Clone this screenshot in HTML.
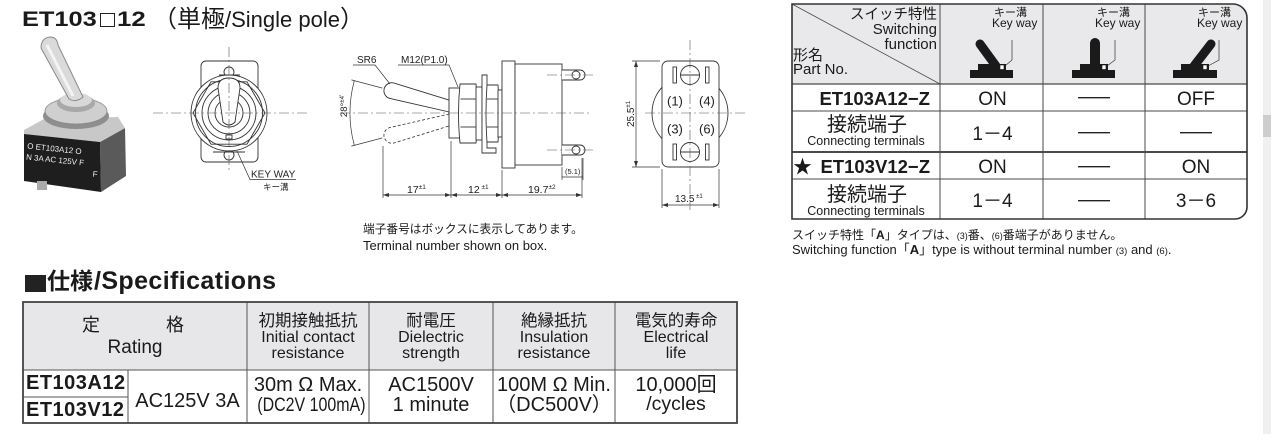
<!DOCTYPE html>
<html><head><meta charset="utf-8">
<style>
html,body{margin:0;padding:0;}
body{width:1271px;height:434px;overflow:hidden;background:#fff;position:relative;font-family:"Liberation Sans","Noto Sans CJK JP",sans-serif;color:#1a1a1a;}
.a{position:absolute;white-space:nowrap;line-height:1;}
.c{text-align:center;}
.r{text-align:right;}
.b{font-weight:bold;}
svg{position:absolute;left:0;top:0;}
</style></head><body>
<svg width="1271" height="434" viewBox="0 0 1271 434" font-family="Liberation Sans, Noto Sans CJK JP, sans-serif">
<defs>
<marker id="ar" markerWidth="6" markerHeight="4" refX="6" refY="2" orient="auto-start-reverse" markerUnits="userSpaceOnUse"><path d="M0,0 L6,2 L0,4 z" fill="#333"/></marker>
</defs>

<!-- PHOTO -->
<g>
<polygon points="100,142 125,128 126,176 101,192" fill="#5a5a5a"/>
<polygon points="24,130 44,119 118,117 125,128 100,142 24,134" fill="#c8c8c8"/>
<polygon points="24,134 100,142 101,192 24,181" fill="#1e1e1e"/>
<rect x="37" y="181" width="10" height="9" fill="#aaa"/>
<ellipse cx="76" cy="116" rx="33" ry="13" fill="#8e8e8e"/>
<ellipse cx="76" cy="111" rx="31" ry="13" fill="#cfcfcf" stroke="#888" stroke-width=".8"/>
<ellipse cx="76" cy="103" rx="19" ry="9" fill="#a8a8a8"/>
<ellipse cx="76" cy="100" rx="16" ry="7" fill="#d8d8d8"/>
<path d="M41,48 Q41,38 50,37 Q57,37 58,45 L83,97 Q76,103 69,99 Z" fill="#dadada" stroke="#8a8a8a" stroke-width="1"/>
<path d="M47,45 L73,96" stroke="#f4f4f4" stroke-width="3"/>
<g fill="#eee" font-size="8" transform="rotate(6 60 150)">
<text x="27" y="152">O ET103A12 O</text>
<text x="27" y="163">N 3A AC 125V F</text>
<text x="95" y="173">F</text>
</g>
</g>

<!-- FRONT VIEW -->
<g stroke="#333" stroke-width="0.9" fill="none">
<rect x="201" y="61" width="57" height="101" rx="5" fill="#fff"/>
<circle cx="229" cy="72" r="5" fill="#fff"/>
<circle cx="229" cy="155" r="5" fill="#fff"/>
<circle cx="229" cy="113" r="38" fill="#fff"/>
<polygon points="265,113 247,81.8 211,81.8 193,113 211,144.2 247,144.2" fill="#fff"/>
<circle cx="229" cy="113" r="33.5"/>
<circle cx="229" cy="113" r="27"/>
<circle cx="229" cy="113" r="21"/>
<circle cx="229" cy="113" r="14"/>
<path d="M218,88 Q218,78 229,78 Q240,78 240,88 L235,122 Q229,128 223,122 Z" fill="#fff"/>
<rect x="226" y="135" width="6" height="4" fill="#fff"/>
<line x1="219" y1="75" x2="240" y2="75"/>
<line x1="213" y1="152" x2="245" y2="152"/>
<path d="M237,151 L250,179.5 H296" stroke-width=".7"/>
</g>
<g stroke="#555" stroke-width="0.6" stroke-dasharray="10 3 2 3">
<line x1="153" y1="113" x2="310" y2="113"/>
<line x1="229" y1="47" x2="229" y2="172"/>
</g>
<text x="251" y="177.5" font-size="10" fill="#222">KEY WAY</text>
<text x="263" y="190" font-size="8.5" fill="#222">キー溝</text>

<!-- SIDE VIEW -->
<g stroke="#333" stroke-width="0.9" fill="none">
<path transform="translate(475,113) rotate(-15)" d="M-20,-5.5 L-86,-8 A8,8 0 0 0 -86,8 L-20,5.5" stroke-dasharray="3 2" stroke-width=".8"/>
<path transform="translate(475,113) rotate(15)" d="M-20,-5.5 L-86,-8 A8,8 0 0 0 -86,8 L-20,5.5 Z" fill="#fff"/>
<rect x="449" y="88" width="12" height="50" fill="#fff"/>
<path d="M460,84 Q457,113 460,143 H476 Q479,113 476,84 Z" fill="#fff"/>
<line x1="460.5" y1="99" x2="476" y2="99"/><line x1="460.5" y1="127" x2="476" y2="127"/>
<rect x="476" y="87" width="6" height="53" fill="#fff"/>
<path d="M482,75 H487 V148 H496 V153 H482 Z" fill="#fff"/>
<path d="M487,85 Q485,113 487,142 H498 Q500,113 498,85 Z" fill="#fff"/>
<line x1="487" y1="99" x2="498" y2="99"/><line x1="487" y1="127" x2="498" y2="127"/>
<rect x="498" y="90" width="4" height="47" fill="#fff"/>
<rect x="502" y="61" width="13" height="107" fill="#fff"/>
<rect x="515" y="64" width="47" height="101" fill="#fff"/>
<path d="M562,70 H580 A5,5 0 0 1 580,80 H562" fill="#fff"/>
<circle cx="576" cy="75" r="4"/>
<path d="M562,145 H580 A5,5 0 0 1 580,155 H562" fill="#fff"/>
<circle cx="576" cy="150" r="4"/>
<path d="M354.3,80.6 A125,125 0 0 0 354.3,145.4" stroke-width=".7"/>
<line x1="382.3" y1="88.1" x2="351.4" y2="79.9" stroke-width=".7"/>
<line x1="382.3" y1="137.9" x2="351.4" y2="146.1" stroke-width=".7"/>
<path d="M353,65 H375 L390,84" stroke-width=".7"/>
<path d="M398,65 H449 L458,87" stroke-width=".7"/>
<g stroke-width=".7">
<line x1="383" y1="146" x2="383" y2="198"/>
<line x1="451" y1="141" x2="451" y2="198"/>
<line x1="502" y1="170" x2="502" y2="198"/>
<line x1="582" y1="158" x2="582" y2="198"/>
<line x1="383" y1="195" x2="451" y2="195" marker-start="url(#ar)" marker-end="url(#ar)"/>
<line x1="451" y1="195" x2="502" y2="195" marker-start="url(#ar)" marker-end="url(#ar)"/>
<line x1="502" y1="195" x2="582" y2="195" marker-start="url(#ar)" marker-end="url(#ar)"/>
<line x1="562" y1="167" x2="562" y2="180"/>
<line x1="583" y1="158" x2="583" y2="180"/>
<line x1="562" y1="177" x2="583" y2="177"/>
</g>
</g>
<g stroke="#555" stroke-width="0.6" stroke-dasharray="10 3 2 3">
<line x1="340" y1="113" x2="592" y2="113"/>
<line x1="547" y1="75" x2="594" y2="75"/>
<line x1="547" y1="150" x2="594" y2="150"/>
</g>
<g fill="#222">
<text x="357" y="63" font-size="10">SR6</text>
<text x="401" y="63" font-size="10">M12(P1.0)</text>
<text transform="translate(347,106) rotate(-90)" text-anchor="middle" font-size="9.5">28°<tspan font-size="6" dy="-3">±4'</tspan></text>
<text x="407" y="193" font-size="10.5">17<tspan font-size="6.5" dy="-4">±1</tspan></text>
<text x="468" y="193" font-size="10.5">12<tspan font-size="6.5" dy="-4"> ±1</tspan></text>
<text x="528" y="193" font-size="10.5">19.7<tspan font-size="6.5" dy="-4">±2</tspan></text>
<text x="565" y="174" font-size="7.5">(5.1)</text>
</g>

<!-- RIGHT VIEW -->
<g stroke="#333" stroke-width="0.9" fill="none">
<circle cx="690" cy="113" r="38"/>
<rect x="662" y="61" width="57" height="106" rx="6" fill="#fff"/>
<circle cx="690" cy="75" r="9.5" fill="#fff"/>
<circle cx="690" cy="152" r="9.5" fill="#fff"/>
<line x1="680" y1="75" x2="700" y2="75"/>
<line x1="680" y1="152" x2="700" y2="152"/>
<rect x="673" y="67" width="3.5" height="16" fill="#fff"/>
<rect x="705.5" y="67" width="3.5" height="16" fill="#fff"/>
<rect x="673" y="144" width="3.5" height="16" fill="#fff"/>
<rect x="705.5" y="144" width="3.5" height="16" fill="#fff"/>
<g stroke-width=".7">
<line x1="632" y1="61" x2="660" y2="61"/>
<line x1="632" y1="167" x2="660" y2="167"/>
<line x1="636" y1="61" x2="636" y2="167" marker-start="url(#ar)" marker-end="url(#ar)"/>
<line x1="662" y1="169" x2="662" y2="208"/>
<line x1="719" y1="169" x2="719" y2="208"/>
<line x1="662" y1="205" x2="719" y2="205" marker-start="url(#ar)" marker-end="url(#ar)"/>
</g>
</g>
<g stroke="#555" stroke-width="0.6" stroke-dasharray="10 3 2 3">
<line x1="690" y1="40" x2="690" y2="210"/>
<line x1="645" y1="113" x2="745" y2="113"/>
</g>
<g fill="#222" font-size="13">
<text x="667" y="105.5">(1)</text>
<text x="699" y="105.5">(4)</text>
<text x="667" y="133.5">(3)</text>
<text x="699" y="133.5">(6)</text>
</g>
<text transform="translate(634,114) rotate(-90)" text-anchor="middle" font-size="10" fill="#222">25.5<tspan font-size="6" dy="-4">±1</tspan></text>
<text x="675" y="202" font-size="10" fill="#222">13.5<tspan font-size="6" dy="-4"> ±1</tspan></text>

<!-- RIGHT TABLE -->
<path d="M792,4 H1233 A14,14 0 0 1 1247,18 V84 H792 Z" fill="#e9e9eb"/>
<g stroke="#4a4a4a" stroke-width="1">
<line x1="792" y1="84" x2="1247" y2="84" stroke-width="1.3"/>
<line x1="792" y1="111" x2="1247" y2="111"/>
<line x1="792" y1="152" x2="1247" y2="152" stroke-width="2"/>
<line x1="792" y1="179" x2="1247" y2="179"/>
<line x1="940" y1="4" x2="940" y2="219"/>
<line x1="1043" y1="4" x2="1043" y2="219"/>
<line x1="1145" y1="4" x2="1145" y2="219"/>
<line x1="792" y1="4" x2="940" y2="84" stroke-width=".8"/>
</g>
<path d="M792,4 H1233 A14,14 0 0 1 1247,18 V207 A12,12 0 0 1 1235,219 H792 Z" fill="none" stroke="#333" stroke-width="1.6"/>
<g stroke="#222" stroke-width="1.3">
<line x1="1078" y1="97.7" x2="1110" y2="97.7"/>
<line x1="1078" y1="132.7" x2="1110" y2="132.7"/>
<line x1="1180" y1="132.7" x2="1212" y2="132.7"/>
<line x1="1078" y1="166.7" x2="1110" y2="166.7"/>
<line x1="1078" y1="200.7" x2="1110" y2="200.7"/>
</g>
<g fill="#1a1a1a">
<rect x="970" y="70" width="43" height="8"/>
<rect x="978" y="64" width="28" height="7"/>
<line x1="980" y1="44" x2="996" y2="66" stroke="#1a1a1a" stroke-width="9" stroke-linecap="round"/>
<rect x="1000" y="65" width="4" height="4.5" fill="#fff" stroke="#1a1a1a" stroke-width=".6"/>
<rect x="1072" y="70" width="43" height="8"/>
<rect x="1080" y="64" width="28" height="7"/>
<line x1="1095" y1="43" x2="1095" y2="66" stroke="#1a1a1a" stroke-width="10" stroke-linecap="round"/>
<rect x="1102" y="65" width="4" height="4.5" fill="#fff" stroke="#1a1a1a" stroke-width=".6"/>
<rect x="1173" y="70" width="44" height="8"/>
<rect x="1181" y="64" width="28" height="7"/>
<line x1="1211" y1="44" x2="1194" y2="66" stroke="#1a1a1a" stroke-width="9" stroke-linecap="round"/>
<rect x="1203" y="65" width="4" height="4.5" fill="#fff" stroke="#1a1a1a" stroke-width=".6"/>
</g>
<g fill="none" stroke="#333" stroke-width=".7">
<path d="M1012,40 V60 L1005,66"/>
<path d="M1115,40 V60 L1107,66"/>
<path d="M1219,40 V60 L1208,66"/>
</g>

<!-- SPEC TABLE -->
<rect x="23" y="302" width="714" height="68" fill="#e7e7e9"/>
<g stroke="#555" stroke-width="1">
<line x1="23" y1="370" x2="737" y2="370"/>
<line x1="23" y1="397" x2="128" y2="397"/>
<line x1="128" y1="370" x2="128" y2="423"/>
<line x1="247" y1="302" x2="247" y2="423"/>
<line x1="369" y1="302" x2="369" y2="423"/>
<line x1="493" y1="302" x2="493" y2="423"/>
<line x1="615" y1="302" x2="615" y2="423"/>
</g>
<rect x="23" y="302" width="714" height="121" fill="none" stroke="#444" stroke-width="1.8"/>

<rect x="1263" y="0" width="8" height="434" fill="#f0f0f0"/>
<rect x="1263" y="115" width="8" height="22" fill="#cdcdcd"/>
</svg>

<!-- TITLE -->
<div class="a b" style="left:22px;top:9px;font-size:21.5px;transform:scaleX(1.18);transform-origin:0 0;">ET103</div>
<div style="position:absolute;left:100px;top:12.5px;width:12.5px;height:12.5px;border:1.6px solid #222;"></div>
<div class="a b" style="left:117px;top:9px;font-size:21.5px;transform:scaleX(1.2);transform-origin:0 0;">12</div>
<div class="a" style="left:153px;top:9px;font-size:22px;line-height:22px;"><span style="font-size:24px">（単極</span>/Single pole<span style="font-size:24px">）</span></div>

<div class="a" style="left:363px;top:223.5px;font-size:11.7px;">端子番号はボックスに表示してあります。</div>
<div class="a" style="left:363px;top:238.5px;font-size:13px;">Terminal number shown on box.</div>

<!-- RIGHT TABLE TEXT -->
<div class="a r" style="left:797px;width:140px;top:7.7px;font-size:14.5px;">スイッチ特性</div>
<div class="a r" style="left:797px;width:140px;top:21.8px;font-size:15px;">Switching</div>
<div class="a r" style="left:797px;width:140px;top:36.8px;font-size:15px;">function</div>
<div class="a" style="left:793px;top:48.3px;font-size:15px;">形名</div>
<div class="a" style="left:793px;top:62.3px;font-size:15px;">Part No.</div>

<div class="a" style="left:994px;top:7.7px;font-size:11px;">キー溝</div>
<div class="a" style="left:992px;top:17.3px;font-size:12px;">Key way</div>
<div class="a" style="left:1097px;top:7.7px;font-size:11px;">キー溝</div>
<div class="a" style="left:1095px;top:17.3px;font-size:12px;">Key way</div>
<div class="a" style="left:1198px;top:7.7px;font-size:11px;">キー溝</div>
<div class="a" style="left:1197px;top:17.3px;font-size:12px;">Key way</div>

<div class="a r b" style="left:800px;width:130px;top:90.3px;font-size:18.5px;">ET103A12−Z</div>
<div class="a c" style="left:941px;width:103px;top:90px;font-size:19px;">ON</div>
<div class="a c" style="left:1145px;width:102px;top:90px;font-size:19px;">OFF</div>

<div class="a c" style="left:792px;width:150px;top:115px;font-size:20px;">接続端子</div>
<div class="a c" style="left:792px;width:148px;top:134.9px;font-size:12.5px;">Connecting terminals</div>
<div class="a c" style="left:941px;width:103px;top:124.9px;font-size:19px;">1－4</div>

<div class="a" style="left:793px;top:158px;font-size:19px;">★</div>
<div class="a r b" style="left:815px;width:115px;top:158.3px;font-size:18.5px;">ET103V12−Z</div>
<div class="a c" style="left:941px;width:103px;top:158px;font-size:19px;">ON</div>
<div class="a c" style="left:1145px;width:102px;top:158px;font-size:19px;">ON</div>

<div class="a c" style="left:792px;width:150px;top:185px;font-size:20px;">接続端子</div>
<div class="a c" style="left:792px;width:148px;top:205px;font-size:12.5px;">Connecting terminals</div>
<div class="a c" style="left:941px;width:103px;top:192px;font-size:19px;">1－4</div>
<div class="a c" style="left:1145px;width:102px;top:192px;font-size:19px;">3－6</div>

<div class="a" style="left:792px;top:228.8px;font-size:12px;">スイッチ特性「<b>A</b>」タイプは、<span style="font-size:9px">(3)</span>番、<span style="font-size:9px">(6)</span>番端子がありません。</div>
<div class="a" style="left:792px;top:243px;font-size:13px;">Switching function「<b>A</b>」type is without terminal number <span style="font-size:9.5px">(3)</span> and <span style="font-size:9.5px">(6)</span>.</div>

<!-- SPEC TITLE -->
<div style="position:absolute;left:25px;top:275px;width:21px;height:17px;background:#222;"></div>
<div class="a b" style="left:47px;top:270px;font-size:23px;">仕様</div>
<div class="a b" style="left:94px;top:268.5px;font-size:25px;letter-spacing:0.4px;">/Specifications</div>

<!-- SPEC TABLE TEXT -->
<div class="a" style="left:82px;top:315.8px;font-size:18px;">定</div>
<div class="a" style="left:166px;top:315.8px;font-size:18px;">格</div>
<div class="a c" style="left:23px;width:224px;top:337.9px;font-size:19px;">Rating</div>

<div class="a c" style="left:247px;width:122px;top:313px;font-size:16.5px;">初期接触抵抗</div>
<div class="a c" style="left:247px;width:122px;top:329.5px;font-size:16px;">Initial contact</div>
<div class="a c" style="left:247px;width:122px;top:345.5px;font-size:16px;">resistance</div>

<div class="a c" style="left:369px;width:124px;top:313px;font-size:16.5px;">耐電圧</div>
<div class="a c" style="left:369px;width:124px;top:329.5px;font-size:16px;">Dielectric</div>
<div class="a c" style="left:369px;width:124px;top:345.5px;font-size:16px;">strength</div>

<div class="a c" style="left:493px;width:122px;top:313px;font-size:16.5px;">絶縁抵抗</div>
<div class="a c" style="left:493px;width:122px;top:329.5px;font-size:16px;">Insulation</div>
<div class="a c" style="left:493px;width:122px;top:345.5px;font-size:16px;">resistance</div>

<div class="a c" style="left:615px;width:122px;top:313px;font-size:16.5px;">電気的寿命</div>
<div class="a c" style="left:615px;width:122px;top:329.5px;font-size:16px;">Electrical</div>
<div class="a c" style="left:615px;width:122px;top:345.5px;font-size:16px;">life</div>

<div class="a b" style="left:26px;top:373px;font-size:20px;letter-spacing:0.5px;">ET103A12</div>
<div class="a b" style="left:26px;top:400px;font-size:20px;letter-spacing:0.5px;">ET103V12</div>
<div class="a c" style="left:128px;width:119px;top:391px;font-size:20px;">AC125V 3A</div>

<div class="a c" style="left:247px;width:122px;top:375px;font-size:20px;">30m Ω Max.</div>
<div class="a c" style="left:247px;width:122px;top:396px;font-size:19px;"><span style="display:inline-block;transform:scaleX(0.84);">(DC2V 100mA)</span></div>

<div class="a c" style="left:369px;width:124px;top:375px;font-size:20px;">AC1500V</div>
<div class="a c" style="left:369px;width:124px;top:395px;font-size:20px;">1 minute</div>

<div class="a c" style="left:493px;width:122px;top:375px;font-size:20px;">100M Ω Min.</div>
<div class="a c" style="left:493px;width:122px;top:395px;font-size:20px;">（DC500V）</div>

<div class="a c" style="left:615px;width:122px;top:375px;font-size:20px;">10,000回</div>
<div class="a c" style="left:615px;width:122px;top:395px;font-size:19.5px;">/cycles</div>
</body></html>
